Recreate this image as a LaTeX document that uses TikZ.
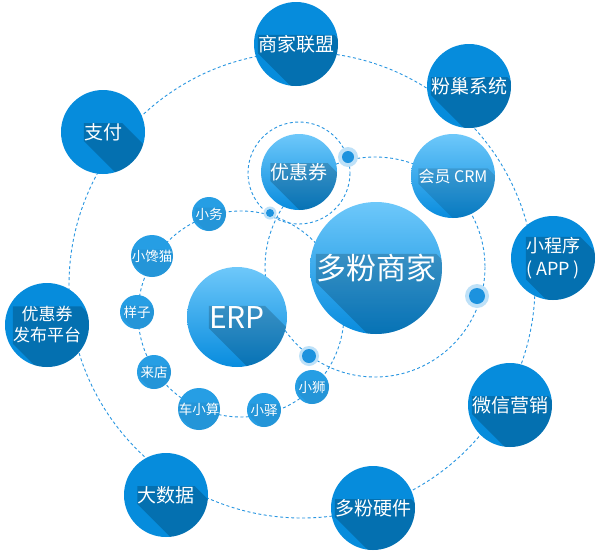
\documentclass[tikz,border=0pt]{standalone}
\usepackage{fontspec}
\setmainfont{Noto Sans CJK SC}
\usetikzlibrary{calc}
\definecolor{outerc}{RGB}{6,140,220}
\definecolor{ringc}{RGB}{40,150,225}
\definecolor{smallc}{RGB}{38,158,228}
\definecolor{gtop}{RGB}{110,200,250}
\definecolor{gbot}{RGB}{8,140,222}
\definecolor{haloc}{RGB}{190,225,248}
\definecolor{dotc}{RGB}{28,146,222}
\tikzset{
  ring/.style={draw=ringc, line width=0.9pt, dash pattern=on 3pt off 2.5pt},
  outerfill/.style={fill=outerc},
  innerfill/.style={top color=gtop, bottom color=gbot},
  smallfill/.style={fill=smallc},
  lbl/.style={inner sep=0pt, text=white, align=center},
  lshadow/.style={fill=black, fill opacity=#1},
  halo/.style={circle, fill=haloc, inner sep=0pt},
  dotcore/.style={circle, fill=dotc, inner sep=0pt},
}
% #1 name, #2 x, #3 y, #4 radius, #5 fill style, #6 font size, #7 shadow opacity, #8 text
\newcommand\bub[8]{%
  \node[circle, inner sep=0pt, minimum size=#4*2pt, #5] (#1) at (#2,#3) {};
  \begin{scope}
    \clip (#1.center) circle[radius=#4];
    \node[lbl, text opacity=0, font=\fontsize{#6}{#6}\selectfont] (#1s) at (#1.center) {#8};
    \fill[lshadow=#7] (#1s.north west) -- (#1s.north east)
      -- ($(#1s.north east)+(160,160)$) -- ($(#1s.south west)+(160,160)$)
      -- (#1s.south west) -- cycle;
  \end{scope}
  \node[lbl, font=\fontsize{#6}{#6}\selectfont] (#1t) at (#1.center) {#8};
}
\begin{document}
\begin{tikzpicture}[x=1pt,y=-1pt]
\fill[white] (0,0) rectangle (600,552);
\useasboundingbox (0,0) rectangle (600,552);
% rings
\coordinate (co) at (302,285);
\coordinate (cy) at (299,173);
\coordinate (cd) at (375,267);
\coordinate (ce) at (241,314);
\draw[ring] (co) circle[radius=233];
\draw[ring] (cy) circle[radius=51];
\draw[ring] (cd) circle[radius=110];
\draw[ring] (ce) circle[radius=103];
% outer nodes
\bub{sjlm}{296}{44}{42}{outerfill}{19}{0.2}{商家联盟}
\bub{fcxt}{469}{86}{42}{outerfill}{19}{0.2}{粉巢系统}
\bub{zf}{103}{132}{42}{outerfill}{19}{0.2}{支付}
\bub{xcx}{553}{258}{42}{outerfill}{18}{0.2}{小程序\\[5pt]( APP )}
\bub{yhqfb}{47}{325}{42}{outerfill}{17}{0.2}{优惠券\\[4pt]发布平台}
\bub{wxyx}{510}{405}{42}{outerfill}{19}{0.2}{微信营销}
\bub{dsj}{166}{495}{42}{outerfill}{19}{0.2}{大数据}
\bub{dfyj}{373}{508}{42}{outerfill}{19}{0.2}{多粉硬件}
% inner nodes
\bub{yhq}{299}{172}{38}{innerfill}{19}{0.18}{优惠券}
\bub{crm}{453}{176}{42}{innerfill}{16}{0.12}{会员 CRM}
\bub{dfsj}{376}{268}{66}{innerfill}{30}{0.18}{多粉商家}
\bub{erp}{237}{317}{50}{innerfill}{30}{0.18}{ERP}
% small nodes
\bub{xw}{209}{214}{17}{smallfill}{13.5}{0.05}{小务}
\bub{xcm}{152}{256}{21}{smallfill}{13.5}{0.05}{小馋猫}
\bub{yz}{137}{312}{17}{smallfill}{13.5}{0.05}{样子}
\bub{ld}{154}{372}{17}{smallfill}{13.5}{0.05}{来店}
\bub{cxs}{199}{409}{21}{smallfill}{13.5}{0.05}{车小算}
\bub{xy}{264}{410}{17}{smallfill}{13.5}{0.05}{小驿}
\bub{xs}{312}{387}{17}{smallfill}{13.5}{0.05}{小狮}
% dots
\node[halo, minimum size=20pt] (d1h) at (348,157) {};
\node[dotcore, minimum size=12pt] (d1) at (348,157) {};
\node[halo, minimum size=13pt] (d2h) at (270,213) {};
\node[dotcore, minimum size=8pt] (d2) at (270,213) {};
\node[halo, minimum size=24pt] (d3h) at (477,296) {};
\node[dotcore, minimum size=16pt] (d3) at (477,296) {};
\node[halo, minimum size=20pt] (d4h) at (309,356) {};
\node[dotcore, minimum size=14pt] (d4) at (309,356) {};
\end{tikzpicture}
\end{document}
